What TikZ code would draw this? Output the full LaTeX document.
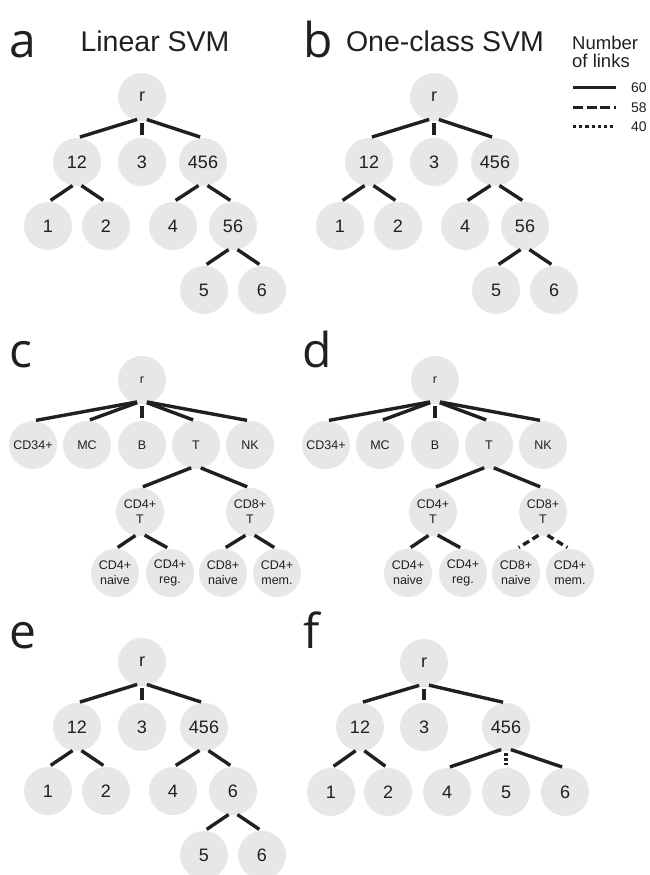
\documentclass[tikz,border=0pt]{standalone}
\usepackage{fontspec}
\setmainfont{Liberation Sans}
\newfontfamily\labfont{Open Sans}
\usetikzlibrary{calc}
\definecolor{ngray}{HTML}{E6E7E8}
\definecolor{ink}{HTML}{231F20}
\tikzset{
 nd/.style={circle, fill=ngray, minimum size=48pt, inner sep=0pt, text=ink, font=\fontsize{18}{20}\selectfont},
 ndc/.style={nd, font=\fontsize{12.5}{15}\selectfont, align=center},
 edge/.style={draw=ink, line width=3.4pt},
 dashedge/.style={dash pattern=on 7pt off 4pt},
 dotedge/.style={dash pattern=on 2.5pt off 2.5pt},
 plab/.style={font=\labfont\fontsize{48}{48}\selectfont, text=ink, anchor=base west, inner sep=0pt},
 ttl/.style={font=\fontsize{28.5}{30}\selectfont, text=ink, anchor=base, inner sep=0pt},
 legtxt/.style={font=\fontsize{18.5}{20}\selectfont, text=ink, anchor=base west, inner sep=0pt},
 legnum/.style={font=\fontsize{14}{16}\selectfont, text=ink, anchor=west, inner sep=0pt},
}
\newcommand\edg[3][]{\draw[edge,#1] ($(#2.south)!5pt!(#3.north)+(0,-3)$) -- ($(#3.north)!3pt!(#2.south)$);}
\begin{document}
\begin{tikzpicture}[x=1pt,y=-1pt]
\useasboundingbox (0,0) rectangle (650,875);
% ---------- panel labels and titles
\node[plab] (la) at (9,58) {a};
\node[plab] (lb) at (303,58) {b};
\node[plab] (lc) at (9,367) {c};
\node[plab] (ld) at (302,367) {d};
\node[plab] (le) at (9,648) {e};
\node[plab] (lf) at (303,648) {f};
\node[ttl] (ta) at (155,52) {Linear SVM};
\node[ttl] (tb) at (445,52) {One-class SVM};
% ---------- legend
\node[legtxt] (lg1) at (572,49) {Number};
\node[legtxt] (lg2) at (572,67) {of links};
\coordinate (s1a) at (573,87.5); \coordinate (s1b) at (616,87.5);
\coordinate (s2a) at (573,107.3); \coordinate (s2b) at (616,107.3);
\coordinate (s3a) at (573,126.7); \coordinate (s3b) at (616,126.7);
\draw[edge] (s1a) -- (s1b);
\draw[edge, dash pattern=on 10pt off 3.5pt] (s2a) -- (s2b);
\draw[edge, dash pattern=on 3.2pt off 3pt] (s3a) -- (s3b);
\node[legnum] (n60) at (631,88) {60};
\node[legnum] (n58) at (631,107.5) {58};
\node[legnum] (n40) at (631,127) {40};
% ---------- panels a and b
\foreach \p/\dx in {a/0, b/292} {
 \begin{scope}[xshift=\dx pt]
  \node[nd] (\p r) at (142,97) {r};
  \node[nd] (\p 12) at (77,162) {12};
  \node[nd] (\p 3) at (142,162) {3};
  \node[nd] (\p 456) at (203,162) {456};
  \node[nd] (\p 1) at (48,226) {1};
  \node[nd] (\p 2) at (106,226) {2};
  \node[nd] (\p 4) at (173,226) {4};
  \node[nd] (\p 56) at (233,226) {56};
  \node[nd] (\p 5) at (204,290) {5};
  \node[nd] (\p 6) at (262,290) {6};
 \end{scope}
 \edg{\p r}{\p 12} \edg{\p r}{\p 3} \edg{\p r}{\p 456}
 \edg{\p 12}{\p 1} \edg{\p 12}{\p 2}
 \edg{\p 456}{\p 4} \edg{\p 456}{\p 56}
 \edg{\p 56}{\p 5} \edg{\p 56}{\p 6}
}
% ---------- panels c and d
\foreach \p/\dx in {c/0, d/293} {
 \begin{scope}[xshift=\dx pt]
  \node[ndc] (\p r) at (142,380) {r};
  \node[ndc] (\p cd34) at (33,445) {CD34+};
  \node[ndc] (\p mc) at (87,445) {MC};
  \node[ndc] (\p b) at (142,445) {B};
  \node[ndc] (\p t) at (196,445) {T};
  \node[ndc] (\p nk) at (250,445) {NK};
  \node[ndc] (\p cd4t) at (140,512) {CD4+\\T};
  \node[ndc] (\p cd8t) at (250,512) {CD8+\\T};
  \node[ndc] (\p cd4n) at (115,573) {CD4+\\naive};
  \node[ndc] (\p cd4r) at (170,573) {CD4+\\reg.};
  \node[ndc] (\p cd8n) at (223,573) {CD8+\\naive};
  \node[ndc] (\p cd4m) at (277,573) {CD4+\\mem.};
 \end{scope}
 \edg{\p r}{\p cd34} \edg{\p r}{\p mc} \edg{\p r}{\p b} \edg{\p r}{\p t} \edg{\p r}{\p nk}
 \edg{\p t}{\p cd4t} \edg{\p t}{\p cd8t}
 \edg{\p cd4t}{\p cd4n} \edg{\p cd4t}{\p cd4r}
}
\edg{ccd8t}{ccd8n} \edg{ccd8t}{ccd4m}
\edg[dashedge]{dcd8t}{dcd8n} \edg[dashedge]{dcd8t}{dcd4m}
% ---------- panel e
\node[nd] (er) at (142,662) {r};
\node[nd] (e12) at (77,727) {12};
\node[nd] (e3) at (142,727) {3};
\node[nd] (e456) at (204,727) {456};
\node[nd] (e1) at (48,791) {1};
\node[nd] (e2) at (106,791) {2};
\node[nd] (e4) at (173,791) {4};
\node[nd] (e6a) at (233,791) {6};
\node[nd] (e5) at (204,855) {5};
\node[nd] (e6) at (262,855) {6};
\edg{er}{e12} \edg{er}{e3} \edg{er}{e456}
\edg{e12}{e1} \edg{e12}{e2}
\edg{e456}{e4} \edg{e456}{e6a}
\edg{e6a}{e5} \edg{e6a}{e6}
% ---------- panel f
\node[nd] (fr) at (424,663) {r};
\node[nd] (f12) at (360,727) {12};
\node[nd] (f3) at (424,727) {3};
\node[nd] (f456) at (506,727) {456};
\node[nd] (f1) at (331,792) {1};
\node[nd] (f2) at (388,792) {2};
\node[nd] (f4) at (447,792) {4};
\node[nd] (f5) at (506,792) {5};
\node[nd] (f6) at (565,792) {6};
\edg{fr}{f12} \edg{fr}{f3} \edg{fr}{f456}
\edg{f12}{f1} \edg{f12}{f2}
\edg{f456}{f4} \edg[dotedge]{f456}{f5} \edg{f456}{f6}
\end{tikzpicture}
\end{document}
